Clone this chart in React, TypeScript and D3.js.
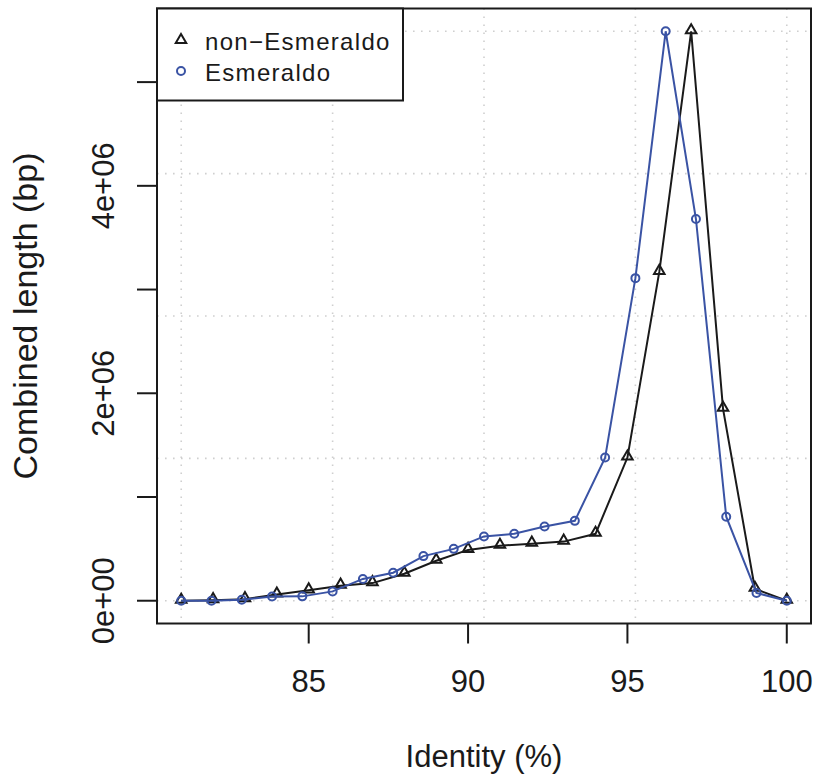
import React from 'react';
import * as d3 from 'd3';

// identity (%) bins and combined length (bp)
const nonEsmX = [81, 82, 83, 84, 85, 86, 87, 88, 89, 90, 91, 92, 93, 94, 95, 96, 97, 98, 99, 100];
const nonEsmY = [0, 5000, 15000, 60000, 100000, 145000, 170000, 260000, 385000, 490000, 530000, 550000, 570000, 645000, 1380000, 3170000, 5490000, 1850000, 115000, 0];

const esmX = [81, 81.95, 82.9, 83.85, 84.8, 85.75, 86.7, 87.65, 88.6, 89.55, 90.5, 91.45, 92.4, 93.35, 94.3, 95.25, 96.2, 97.15, 98.1, 99.05, 100];
const esmY = [0, 0, 10000, 40000, 42000, 90000, 210000, 270000, 430000, 500000, 620000, 645000, 715000, 770000, 1380000, 3110000, 5490000, 3680000, 810000, 75000, 0];

const xTicks = [85, 90, 95, 100];
const yTicks = [0, 1e6, 2e6, 3e6, 4e6, 5e6];
const yLabelled = [0, 2e6, 4e6];
const yTickLabels = ['0e+00', '2e+06', '4e+06'];

const legendLabels = ['non\u2212Esmeraldo', 'Esmeraldo'];

const W = 816, H = 775;
const left = 157, right = 811, top = 8.5, bottom = 623.5;
const font = '"Liberation Sans", Arial, sans-serif';
const blue = '#3a53a4';
const black = '#1a1a1a';

export default function App() {
  const allX = nonEsmX.concat(esmX);
  const allY = nonEsmY.concat(esmY);
  const [x0, x1] = d3.extent(allX) as [number, number];
  const [y0, y1] = d3.extent(allY) as [number, number];
  // R style 4% padding
  const xp = (x1 - x0) * 0.04, yp = (y1 - y0) * 0.04;
  const x = d3.scaleLinear().domain([x0 - xp, x1 + xp]).range([left, right]);
  const y = d3.scaleLinear().domain([y0 - yp, y1 + yp]).range([bottom, top]);

  const gridX = d3.range(5).map(i => x0 + (i * (x1 - x0)) / 4);
  const gridY = d3.range(5).map(i => y0 + (i * (y1 - y0)) / 4);

  const path = (xs: number[], ys: number[]) =>
    d3.line<number>().x((d) => x(d)).y((_, i) => y(ys[i]))(xs) as string;

  const tri = d3.symbol().type(d3.symbolTriangle).size(48)() as string;

  return (
    <svg width={W} height={H} style={{ position: 'absolute', left: 0, top: 0 }}>
      <rect width={W} height={H} fill="#fff" />
      <g stroke="#cfcfcf" strokeWidth={1.6} strokeDasharray="1.6,6.4">
        {gridX.map((g, i) => (
          <line key={'gx' + i} x1={x(g)} x2={x(g)} y1={top} y2={bottom} />
        ))}
        {gridY.map((g, i) => (
          <line key={'gy' + i} x1={left} x2={right} y1={y(g)} y2={y(g)} />
        ))}
      </g>

      <path d={path(nonEsmX, nonEsmY)} fill="none" stroke={black} strokeWidth={2} />
      {nonEsmX.map((d, i) => (
        <path key={'t' + i} d={tri} transform={`translate(${x(d)},${y(nonEsmY[i]) - 1})`}
          fill="none" stroke={black} strokeWidth={2} />
      ))}
      <path d={path(esmX, esmY)} fill="none" stroke={blue} strokeWidth={2} />
      {esmX.map((d, i) => (
        <circle key={'c' + i} cx={x(d)} cy={y(esmY[i])} r={4} fill="none" stroke={blue} strokeWidth={2} />
      ))}

      <rect x={left} y={top} width={right - left} height={bottom - top} fill="none" stroke={black} strokeWidth={2} />

      {/* axes */}
      <g stroke={black} strokeWidth={2}>
        {xTicks.map(t => (
          <line key={'xt' + t} x1={x(t)} x2={x(t)} y1={bottom} y2={bottom + 20} />
        ))}
        {yTicks.map(t => (
          <line key={'yt' + t} x1={left} x2={left - 20} y1={y(t)} y2={y(t)} />
        ))}
      </g>
      <g fontFamily={font} fontSize={31} fill={black} textAnchor="middle">
        {xTicks.map(t => (
          <text key={'xl' + t} x={x(t)} y={692}>{t}</text>
        ))}
        {yLabelled.map((t, i) => (
          <text key={'yl' + t} transform={`translate(114,${y(t)}) rotate(-90)`}>{yTickLabels[i]}</text>
        ))}
        <text x={(left + right) / 2} y={767}>Identity (%)</text>
        <text fontSize={34} transform={`translate(37,${(top + bottom) / 2}) rotate(-90)`}>Combined length (bp)</text>
      </g>

      {/* legend */}
      <rect x={left} y={top} width={246} height={92} fill="#fff" stroke={black} strokeWidth={2} />
      <path d={tri} transform="translate(181,40)" fill="none" stroke={black} strokeWidth={2} />
      <circle cx={181} cy={71} r={4} fill="none" stroke={blue} strokeWidth={2} />
      <g fontFamily={font} fontSize={24} fill={black} letterSpacing={1.3}>
        <text x={205} y={50}>{legendLabels[0]}</text>
        <text x={205} y={81}>{legendLabels[1]}</text>
      </g>
    </svg>
  );
}
